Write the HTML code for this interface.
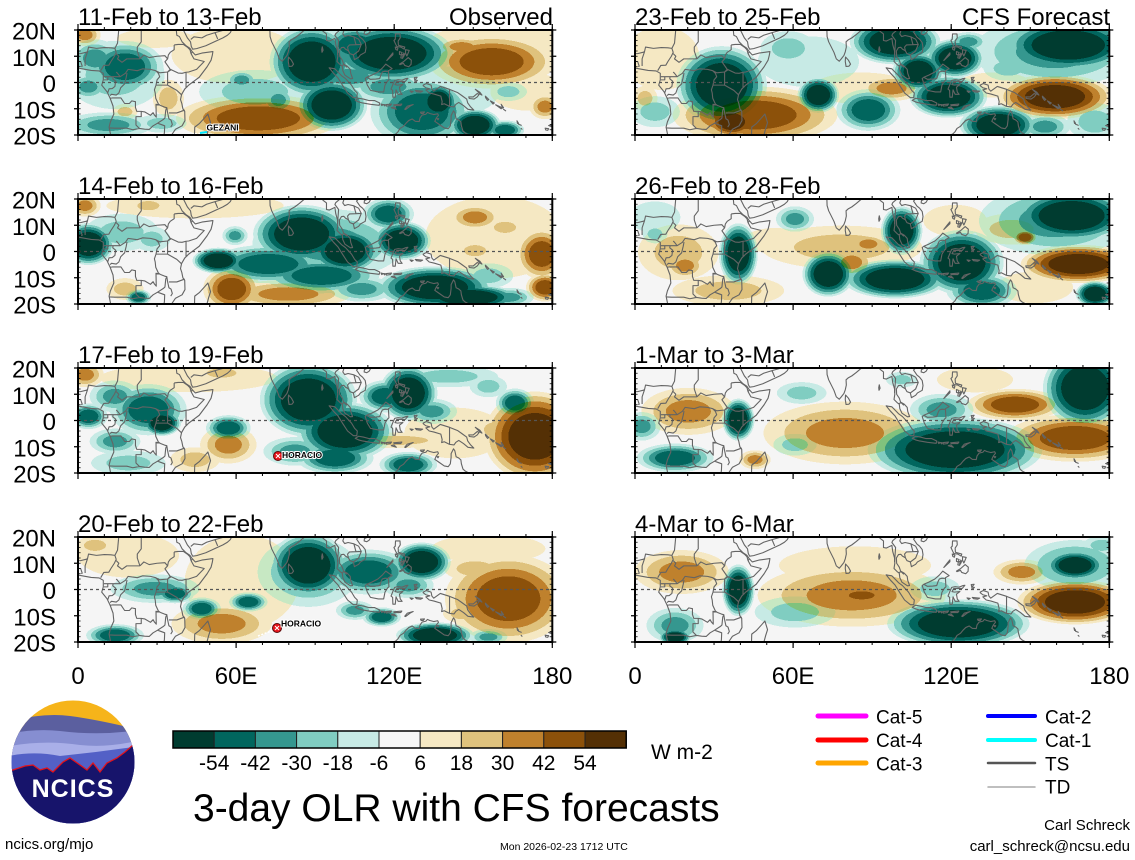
<!DOCTYPE html>
<html><head><meta charset="utf-8"><style>
html,body{margin:0;padding:0;background:#fff;}
svg{display:block;}
text{font-family:"Liberation Sans",Arial,sans-serif;}
ellipse{mix-blend-mode:darken;}
.t5{fill:url(#gT5)}.t4{fill:url(#gT4)}.t3{fill:url(#gT3)}.t2{fill:url(#gT2)}.t1{fill:url(#gT1)}
.b5{fill:url(#gB5)}.b4{fill:url(#gB4)}.b3{fill:url(#gB3)}.b2{fill:url(#gB2)}.b1{fill:url(#gB1)}
.lab{font-size:24px;fill:#000}
.tc{font-size:8.5px;font-weight:bold;fill:#000;stroke:#fff;stroke-width:2px;paint-order:stroke;}
</style></head><body>
<svg width="1135" height="860" viewBox="0 0 1135 860" xmlns="http://www.w3.org/2000/svg">
<defs>
<radialGradient id="gT5"><stop offset=".55" stop-color="#003c30"/><stop offset=".55" stop-color="#01665e"/><stop offset=".67" stop-color="#01665e"/><stop offset=".67" stop-color="#35978f"/><stop offset=".78" stop-color="#35978f"/><stop offset=".78" stop-color="#80cdc1"/><stop offset=".88" stop-color="#80cdc1"/><stop offset=".88" stop-color="#c7eae5"/><stop offset=".97" stop-color="#c7eae5"/><stop offset=".97" stop-color="#ffffff" stop-opacity="0"/></radialGradient>
<radialGradient id="gT4"><stop offset=".5" stop-color="#01665e"/><stop offset=".5" stop-color="#35978f"/><stop offset=".65" stop-color="#35978f"/><stop offset=".65" stop-color="#80cdc1"/><stop offset=".8" stop-color="#80cdc1"/><stop offset=".8" stop-color="#c7eae5"/><stop offset=".96" stop-color="#c7eae5"/><stop offset=".96" stop-color="#ffffff" stop-opacity="0"/></radialGradient>
<radialGradient id="gT3"><stop offset=".45" stop-color="#35978f"/><stop offset=".45" stop-color="#80cdc1"/><stop offset=".7" stop-color="#80cdc1"/><stop offset=".7" stop-color="#c7eae5"/><stop offset=".95" stop-color="#c7eae5"/><stop offset=".95" stop-color="#ffffff" stop-opacity="0"/></radialGradient>
<radialGradient id="gT2"><stop offset=".55" stop-color="#80cdc1"/><stop offset=".55" stop-color="#c7eae5"/><stop offset=".93" stop-color="#c7eae5"/><stop offset=".93" stop-color="#ffffff" stop-opacity="0"/></radialGradient>
<radialGradient id="gT1"><stop offset=".95" stop-color="#c7eae5"/><stop offset=".95" stop-color="#ffffff" stop-opacity="0"/></radialGradient>
<radialGradient id="gB5"><stop offset=".5" stop-color="#543005"/><stop offset=".5" stop-color="#8c510a"/><stop offset=".63" stop-color="#8c510a"/><stop offset=".63" stop-color="#bf812d"/><stop offset=".75" stop-color="#bf812d"/><stop offset=".75" stop-color="#dfc27d"/><stop offset=".86" stop-color="#dfc27d"/><stop offset=".86" stop-color="#f6e8c3"/><stop offset=".96" stop-color="#f6e8c3"/><stop offset=".96" stop-color="#ffffff" stop-opacity="0"/></radialGradient>
<radialGradient id="gB4"><stop offset=".48" stop-color="#8c510a"/><stop offset=".48" stop-color="#bf812d"/><stop offset=".64" stop-color="#bf812d"/><stop offset=".64" stop-color="#dfc27d"/><stop offset=".8" stop-color="#dfc27d"/><stop offset=".8" stop-color="#f6e8c3"/><stop offset=".95" stop-color="#f6e8c3"/><stop offset=".95" stop-color="#ffffff" stop-opacity="0"/></radialGradient>
<radialGradient id="gB3"><stop offset=".45" stop-color="#bf812d"/><stop offset=".45" stop-color="#dfc27d"/><stop offset=".7" stop-color="#dfc27d"/><stop offset=".7" stop-color="#f6e8c3"/><stop offset=".94" stop-color="#f6e8c3"/><stop offset=".94" stop-color="#ffffff" stop-opacity="0"/></radialGradient>
<radialGradient id="gB2"><stop offset=".55" stop-color="#dfc27d"/><stop offset=".55" stop-color="#f6e8c3"/><stop offset=".93" stop-color="#f6e8c3"/><stop offset=".93" stop-color="#ffffff" stop-opacity="0"/></radialGradient>
<radialGradient id="gB1"><stop offset=".95" stop-color="#f6e8c3"/><stop offset=".95" stop-color="#ffffff" stop-opacity="0"/></radialGradient>

<g id="coast" fill="none" stroke="#646464" stroke-width="0.42" stroke-linejoin="round">
<path d="M0,5.5 L5,4.6 L8,4.4 L9.6,3.5 L9.6,1 L9,-1 L11,-3.5 L12.2,-6 L13.3,-9 L13.6,-12 L12.3,-15 L11.8,-17 L12.5,-20.5
M37.2,21 L37.5,18 L38.5,17.5 L39.5,15.5 L41,14 L42.5,13 L43.3,11.8 L44.5,10.5 L47,11.2 L51.2,11.8 L51,10.5 L50.5,8.5 L49,6 L47.5,4 L46,2 L44,0.5 L42,-1 L40.5,-2.5 L39.3,-4.6 L38.9,-6.5 L39.4,-8 L39.8,-10 L40.5,-11 L40.6,-14.5 L39.5,-16.5 L37,-17.8 L35.5,-20 L35,-21
M39.5,21 L40.5,19 L41.5,17 L42.7,15.5 L43,13.7 L43.5,12.7 L45,12.9 L48.5,14 L52.2,15.7 L55,17 L56.7,18 L57.8,19 L58.5,20.5
M49.3,-12 L50.3,-15.3 L49.6,-17.5 L48.8,-20.5 L44.2,-20.5 L44.3,-17 L46,-15.7 L48,-13.5 Z
M72.8,20.5 L72.9,17.5 L73.5,15.5 L74.5,13.5 L75.5,11.5 L76.4,9 L77.5,8.1 L78.2,8.9 L79.3,10.3 L79.8,11.7 L80.2,13.5 L80.1,15.5 L81,16.3 L82.3,17 L84,18.3 L85.5,19.6 L86.8,20.5
M79.9,9.7 L81,8.5 L81.8,7 L81.2,6.2 L80.1,6.1 L79.8,8 Z
M92.7,13.6 L93,12.3 L92.6,11.5 L92.5,12.5 Z
M92.3,20.7 L93,19.5 L94.3,18.5 L94.3,16 L95.4,15.8 L97.5,16.8 L97.8,14.5 L98.5,12 L98.6,10 L98.3,8 L99.5,6.8 L100.3,6.2 L100.5,4.5 L101.3,2.8 L103.4,1.4 L104.2,1.5 L103.5,3.5 L103.3,5 L102.2,6.2 L100.8,7 L100.3,8.5 L99.3,10 L99.2,12 L100,13.3 L100.9,13.4 L101.5,12.7 L102.6,12.1 L103.2,11 L104.5,10.5 L104.9,8.7 L106.5,9.6 L107.2,10.5 L109,11.5 L109.3,13.3 L109,15.2 L108,16.5 L107,17.3 L106.2,18.5 L105.7,19.2 L106.7,20.3 L107.5,21.5
M108.6,18.5 L109.6,18.2 L110.5,18.8 L111,19.7 L110.2,20.1 L108.7,19.4 Z
M95.3,5.6 L97.5,5.2 L100,2.6 L101.5,1.5 L103.8,-1 L105,-3 L106,-4 L105.8,-5.8 L104.5,-5.8 L102.3,-4 L100.5,-1.2 L98.7,1.7 L97,3.5 Z
M105.2,-6.8 L106.5,-6 L108.3,-6.3 L110.5,-6.9 L112.6,-6.9 L114.5,-7.8 L114.3,-8.7 L111,-8.3 L108,-7.8 L106.5,-7.4 Z
M115,-8.2 L115.7,-8.4 L115.3,-8.8 Z M116,-8.4 L116.7,-8.5 L116.3,-8.9 Z M117,-8.4 L119,-8.2 L118.5,-8.8 L117,-9 Z M119.8,-8.5 L122.9,-8.2 L122.5,-8.8 L120,-8.8 Z M118.9,-9.6 L120.8,-10.2 L119.9,-9.3 Z
M124,-10.2 L125,-9 L127.2,-8.4 L126,-9 L124.3,-10.3 Z
M109,1.5 L109.8,-1 L111,-3 L114,-3.6 L116,-3.6 L116.5,-1 L117.5,0.6 L118,1 L117.8,4.5 L119.2,5.3 L116.8,7 L115.5,5.5 L113.8,4 L111.5,2.8 L109.6,2 Z
M119.5,-5.6 L119.4,-3 L118.8,-2.5 L119.8,0 L120.2,0.8 L121.5,1.1 L123,0.9 L124.5,1.5 L125.2,1.6 L124.2,0.4 L121,0.4 L120.3,-0.8 L121.2,-1 L123.3,-0.8 L122,-1.8 L122.3,-3.6 L123,-4.5 L121.5,-4.5 L120.7,-2.8 L120.4,-5.6 Z
M127.6,1.9 L128,0 L128.8,0.8 L127.9,1 L128.7,2 Z M128,-3 L130.8,-3.3 L130,-3.7 L128.5,-3.5 Z M126,-3.2 L127.2,-3.4 L126.6,-3.8 Z
M120.5,18.5 L122.2,18.5 L122.3,17 L121.5,15.8 L121.6,14.2 L124,13.5 L123.8,12.7 L122.5,13.5 L121,13.7 L120.6,14.5 L119.9,16 L120.4,16.5 Z
M120.4,13.5 L121.4,13.1 L121.2,12.3 L120.6,12.6 Z M124.3,12.5 L125.7,12.2 L125.2,11 L124.8,10.1 L124.3,11.2 Z
M122,11.8 L123,11.4 L122.6,10.5 L122,10.7 Z M122.8,10.8 L123.3,10.6 L123.2,9.2 L122.5,9.4 Z M123.6,11.2 L124,10.8 L123.5,9.7 Z
M117.2,8.4 L119.5,10.6 L119.5,11.3 L118.6,10.2 Z
M122,7 L123.5,7.9 L125.3,9.5 L126.5,8.5 L126.4,6.9 L125.5,6 L124,6.5 L123.5,7.3 L122.2,6.8 Z
M131,-1 L132.2,-0.4 L134,-1 L134.3,-2.5 L135,-3.3 L137.5,-1.5 L141,-2.6 L144,-3.8 L145.7,-5 L147.5,-6.3 L147.9,-7.8 L149,-9.3 L150.2,-10.5 L148,-10.2 L146.3,-8.8 L144.5,-7.6 L143.4,-8.3 L142.7,-9.3 L141,-9.1 L139,-8.1 L138,-8.4 L138.2,-7.3 L137.7,-5.2 L135.1,-4.4 L133.3,-4 L132,-2.8 L133.5,-2.4 L132,-2 L131,-1.2 Z
M148.3,-5.5 L150,-5.5 L151.5,-4.2 L152.2,-4.6 L151.5,-5.5 L150.3,-6.3 L148.5,-6.1 Z
M150.8,-2.6 L152.5,-3.7 L153.3,-4.8 L152.7,-4.5 L151.2,-3 Z
M154.6,-5.2 L155.9,-6.5 L155.4,-6.8 L154.7,-5.8 Z M156.5,-7 L158,-7.8 L157.5,-8.2 Z M158.5,-8.5 L161,-9.6 L160.6,-10 Z M160.6,-8.3 L161.5,-9.6 L161.2,-9.8 Z M161.5,-10.2 L162.3,-10.8 Z
M166.6,-14.6 L167.2,-15.6 L166.8,-15.6 Z M167.2,-15.9 L168.2,-16.3 Z M168.2,-17.5 L168.5,-17.8 Z
M177.3,-17.4 L178.6,-17.6 L178.3,-18.2 L177.5,-18.1 Z M178.6,-16.4 L180,-16.2 L179.6,-16.8 Z
M163.6,-20 L165,-21
M113.5,-22 L114.2,-21.8 L116,-20.8 L118.5,-20.3 L120.5,-19.7 L121.5,-18.7 L122.2,-17.5 L123.5,-16.7 L124.5,-15.5 L125.5,-14.5 L126.8,-13.9 L128,-14.8 L129.5,-14.9 L129.8,-13.5 L130.6,-12.4 L132,-12.1 L132.6,-11.4 L133.5,-11.8 L135,-12.2 L136.5,-11.9 L136.8,-12.5 L136,-13.5 L135.4,-14.8 L137,-15.9 L139,-17.3 L140.5,-17.6 L141.3,-16.5 L141.6,-14 L141.6,-12.6 L142.5,-10.8 L143,-11.5 L143.5,-13.8 L144.5,-14.3 L145.3,-15 L145.5,-16.5 L146.1,-18.5 L147,-19.3 L148.7,-20.2 L149.5,-22
M130,-11.3 L131.5,-11.2 L131,-11.8 L130.2,-11.8 Z M136.3,-13.8 L136.9,-13.8 L136.6,-14.2 Z"/>
<path d="M0,11 L1,11 L3,11.5 L3.6,11.7 L4,13.5 L7,13 L10,13.3 L12.5,13.2 L14,13 M14,13 L15,15 L15.5,20.5
M22,20.5 L24,20 L24,15.5 L22.5,13.5 L22.5,12 L23.5,9
M8.6,4.5 L9.8,6.5 L11.7,6.6 L12.5,8 L13.8,10 L14.5,11.5 L14,13
M14.5,11 L15.5,10 L15,9 L16.7,7.7 L18.5,9 L20.5,9 L23.5,9
M14.5,4 L15,3.5 L16,2.2 L18,3.5 L19,5 L22.5,4.5 L24.5,5.2 L27.5,5 L29.5,4.5 L31,3.7 L34,4 L35.5,5
M23.5,9 L25,10.5 L27,9.5 L30,10 L33,10.2 L34,9 L33,7.9 L35,5
M36.5,14.3 L36.5,12.5 L35,11.5 L34.3,10.5 L34,9
M36.5,14.3 L38,14.5 L40,14.5 L41.7,13.3 L42.5,12.5 M42.5,12.5 L42.9,11 L43.3,11.5
M42.9,11 L44,9 L47.9,8 L45,5 L42,4 L41,3.9 L39.5,3.5 L38,3.6 L35.9,4.6 L35,5
M41,3.9 L41,-1.7 L41.5,-1.7 M35,5 L34,4 L34,1 L34,-1 M34,-1 L37.5,-3 L39.2,-4.6 M29.6,-1 L30.5,-1 L34,-1
M29.5,4.5 L30.5,3.5 L31,2.2 L30,1 L29.6,-1 L29,-2.8 L29.3,-4 L29.5,-6 L30.5,-8.2 L31.2,-8.7
M31.2,-8.7 L32.9,-9.4 L33.7,-9.6 L34,-11.5 L34.5,-13.8 L35.3,-14.3 L35.8,-16 L35.2,-17
M33.7,-9.6 L33.3,-10.5 L33,-13.5 L32.5,-14 L30.2,-15.5 L28.5,-16.5 L27,-17.9 L25.3,-17.8
M34.5,-11.6 L36,-11.6 L37.5,-11.6 L40.5,-10.5 M30.2,-15.5 L32.9,-16.5 L32.8,-19 L32.5,-21
M25.3,-17.8 L23.3,-17.5 L20.8,-18 L18.5,-17.4 L14,-17.4 L11.8,-17.3
M23.3,-17.5 L22,-16.2 L22,-13 L24,-13 L24,-11 L22.3,-11 L21.8,-9.5 L21.8,-7.3 L20.4,-7 L19.5,-8 L17.7,-8 L16.3,-5.9 L13,-5.9 L12.2,-6
M12.2,-5 L12.7,-4.5 L14.5,-4.8 L15.5,-4 L16.2,-2 L17.7,-0.5 L18.3,2 L18.6,3.6
M11.3,-3.9 L11.8,-2.4 L13,-2.3 L14,-1.5 L14.3,0.5 L13.2,1.4 L13.3,2.2 L16,2.2
M9.8,2.2 L11.3,2.2 L13.3,2.2 M9.8,1 L11.3,1 L11.3,2.2
M24,-11 L25.3,-11.2 L27.5,-12.5 L28.5,-11.5 L29,-12.4 L29.7,-13.2 L29.6,-8.3 L31,-8.6
M0,8 L1,8 L1.6,6.2 L1.2,6.1 M2.7,6.3 L2.7,9 L3.6,11.7
M42.8,16.4 L44,17.4 L47,17 L48.8,18 L52,19 L55.6,20 M52,19 L53,16.6
M98.5,10.5 L98.9,16 L97.5,17.9 L97.8,18.6 L100,20.5 M100,6.4 L101,6.8 L101.9,5.9 L102.1,6.2
M101.1,20.4 L100.5,18.5 L101.2,17.5 L102.5,17.9 L104.7,17.4 L105.5,14.4 L103,14.3 L102.3,13.5 L102.6,12.1
M105.5,14.4 L107.5,14.5 L106.5,12 L104.5,10.5 M104.7,17.4 L106.5,16.5 L107.5,14.5
M109.6,2 L111,1.2 L113,1.3 L114.5,1.5 L115,3 L115.5,4 L116.5,4.3 L117.6,4.2
M141,-2.6 L141,-9.1"/>
</g>

<g id="frame" fill="none" stroke="#000">
<rect x="0" y="0" width="474.3" height="105" stroke-width="2"/>
<line x1="-2" y1="-0.6" x2="-2" y2="106" stroke-width="4" stroke-dasharray="1.2 25.05"/>
<line x1="476.3" y1="-0.6" x2="476.3" y2="106" stroke-width="4" stroke-dasharray="1.2 25.05"/>
<line x1="1.3" y1="-0.4" x2="1.3" y2="106" stroke-width="2.6" stroke-dasharray="0.8 4.45"/>
<line x1="473" y1="-0.4" x2="473" y2="106" stroke-width="2.6" stroke-dasharray="0.8 4.45"/>
<line x1="-0.5" y1="106.5" x2="476" y2="106.5" stroke-width="3" stroke-dasharray="1 25.35"/>
<line x1="-0.6" y1="108" x2="476" y2="108" stroke-width="6" stroke-dasharray="1.2 156.9"/>
<line x1="-0.5" y1="-1.5" x2="476" y2="-1.5" stroke-width="3" stroke-dasharray="1 25.35"/>
<line x1="-0.6" y1="-3" x2="476" y2="-3" stroke-width="6" stroke-dasharray="1.2 156.9"/>
</g>
<clipPath id="lc"><circle cx="73" cy="762" r="61.5"/></clipPath>
</defs>

<rect width="1135" height="860" fill="#fff"/>

<!-- ===== ROW 1 LEFT ===== -->
<svg x="78" y="30" width="474.3" height="105">
<rect width="474.3" height="105" fill="#f5f5f5"/>
<g transform="translate(-3,-5) scale(0.66667,0.33333)">
<ellipse class="b1" cx="240" cy="90" rx="100" ry="90"/><ellipse class="b1" cx="640" cy="60" rx="120" ry="70"/><ellipse class="b1" cx="120" cy="40" rx="60" ry="30"/><ellipse class="b1" cx="680" cy="200" rx="60" ry="60"/>
<ellipse class="t2" cx="60" cy="150" rx="80" ry="110"/><ellipse class="t2" cx="270" cy="200" rx="90" ry="70"/><ellipse class="t1" cx="560" cy="200" rx="80" ry="80"/><ellipse class="t2" cx="650" cy="200" rx="30" ry="30"/>
<ellipse class="b2" cx="140" cy="220" rx="25" ry="60"/><ellipse class="b2" cx="75" cy="260" rx="20" ry="25"/><ellipse class="t2" cx="130" cy="295" rx="40" ry="30"/>
<ellipse class="b3" cx="15" cy="30" rx="25" ry="35"/><ellipse class="b3" cx="580" cy="65" rx="40" ry="30"/><ellipse class="b3" cx="705" cy="245" rx="25" ry="40"/>
<ellipse class="t3" cx="30" cy="100" rx="40" ry="60"/><ellipse class="t3" cx="20" cy="185" rx="30" ry="40"/><ellipse class="t3" cx="50" cy="300" rx="70" ry="40"/><ellipse class="t3" cx="250" cy="165" rx="25" ry="30"/><ellipse class="t3" cx="305" cy="225" rx="25" ry="40"/><ellipse class="t3" cx="410" cy="155" rx="70" ry="50"/><ellipse class="t3" cx="470" cy="185" rx="60" ry="50"/>
<ellipse class="b4" cx="275" cy="280" rx="130" ry="75"/><ellipse class="b4" cx="625" cy="110" rx="100" ry="85"/>
<ellipse class="t4" cx="75" cy="125" rx="60" ry="80"/><ellipse class="t4" cx="420" cy="60" rx="50" ry="60"/><ellipse class="t4" cx="520" cy="260" rx="80" ry="110"/><ellipse class="t4" cx="645" cy="315" rx="30" ry="30"/>
<ellipse class="t5" cx="355" cy="110" rx="65" ry="110"/><ellipse class="t5" cx="475" cy="85" rx="95" ry="90"/><ellipse class="t5" cx="385" cy="240" rx="55" ry="80"/><ellipse class="t5" cx="545" cy="230" rx="30" ry="55"/><ellipse class="t5" cx="600" cy="300" rx="40" ry="50"/>
</g>
<use href="#coast" transform="translate(0,52.5) scale(2.635,-2.625)"/>
<line x1="0" y1="52.5" x2="474.3" y2="52.5" stroke="#555" stroke-width="1.2" stroke-dasharray="3 3"/>
</svg>

<!-- ===== ROW 1 RIGHT ===== -->
<svg x="635" y="30" width="474.3" height="105">
<rect width="474.3" height="105" fill="#f5f5f5"/>
<g transform="translate(-560,-5) scale(0.66667,0.33333)">
<ellipse class="b1" cx="880" cy="100" rx="60" ry="100"/><ellipse class="b1" cx="1180" cy="190" rx="80" ry="50"/><ellipse class="b1" cx="1380" cy="180" rx="60" ry="40"/><ellipse class="t1" cx="1100" cy="110" rx="80" ry="80"/><ellipse class="t2" cx="1400" cy="130" rx="40" ry="40"/><ellipse class="b2" cx="855" cy="220" rx="20" ry="40"/><ellipse class="t2" cx="870" cy="260" rx="40" ry="50"/><ellipse class="t2" cx="1070" cy="70" rx="45" ry="55"/><ellipse class="t2" cx="1530" cy="290" rx="45" ry="60"/>
<ellipse class="b3" cx="1225" cy="190" rx="50" ry="40"/><ellipse class="t3" cx="1340" cy="50" rx="30" ry="30"/><ellipse class="t3" cx="1470" cy="80" rx="130" ry="110"/><ellipse class="t3" cx="1455" cy="305" rx="40" ry="40"/>
<ellipse class="b4" cx="1020" cy="270" rx="130" ry="90"/><ellipse class="t4" cx="1190" cy="255" rx="50" ry="65"/>
<ellipse class="t5" cx="970" cy="180" rx="70" ry="120"/><ellipse class="t5" cx="1115" cy="210" rx="32" ry="55"/><ellipse class="b5" cx="985" cy="290" rx="40" ry="50"/><ellipse class="t5" cx="1230" cy="50" rx="70" ry="70"/><ellipse class="t5" cx="1265" cy="140" rx="40" ry="60"/><ellipse class="t5" cx="1320" cy="100" rx="45" ry="60"/><ellipse class="t5" cx="1310" cy="215" rx="60" ry="65"/><ellipse class="t5" cx="1490" cy="60" rx="100" ry="80"/><ellipse class="b5" cx="1470" cy="215" rx="90" ry="70"/><ellipse class="t5" cx="1385" cy="300" rx="60" ry="60"/>
</g>
<use href="#coast" transform="translate(0,52.5) scale(2.635,-2.625)"/>
<line x1="0" y1="52.5" x2="474.3" y2="52.5" stroke="#555" stroke-width="1.2" stroke-dasharray="3 3"/>
</svg>

<!-- ===== ROW 2 LEFT ===== -->
<svg x="78" y="199" width="474.3" height="105">
<rect width="474.3" height="105" fill="#f5f5f5"/>
<g transform="translate(-3,-5) scale(0.66667,0.33333)">
<ellipse class="b1" cx="180" cy="35" rx="140" ry="40"/><ellipse class="b1" cx="630" cy="130" rx="110" ry="130"/><ellipse class="b2" cx="110" cy="35" rx="30" ry="25"/><ellipse class="t2" cx="70" cy="115" rx="60" ry="60"/><ellipse class="t2" cx="115" cy="135" rx="30" ry="40"/><ellipse class="b2" cx="75" cy="285" rx="30" ry="35"/><ellipse class="t2" cx="620" cy="245" rx="40" ry="40"/><ellipse class="b2" cx="645" cy="100" rx="30" ry="30"/><ellipse class="b2" cx="600" cy="170" rx="30" ry="30"/>
<ellipse class="b3" cx="15" cy="35" rx="25" ry="35"/><ellipse class="t3" cx="240" cy="125" rx="20" ry="30"/><ellipse class="t3" cx="380" cy="150" rx="120" ry="110"/><ellipse class="t3" cx="430" cy="285" rx="50" ry="40"/><ellipse class="b3" cx="320" cy="300" rx="100" ry="45"/><ellipse class="t3" cx="650" cy="310" rx="40" ry="30"/><ellipse class="b3" cx="600" cy="70" rx="40" ry="40"/>
<ellipse class="t4" cx="470" cy="60" rx="40" ry="50"/><ellipse class="t4" cx="290" cy="210" rx="90" ry="60"/><ellipse class="t4" cx="370" cy="245" rx="90" ry="55"/><ellipse class="b4" cx="235" cy="285" rx="45" ry="70"/><ellipse class="t4" cx="95" cy="310" rx="20" ry="25"/><ellipse class="b4" cx="700" cy="180" rx="40" ry="80"/><ellipse class="b4" cx="705" cy="280" rx="30" ry="45"/>
<ellipse class="t5" cx="20" cy="150" rx="40" ry="65"/><ellipse class="t5" cx="340" cy="120" rx="75" ry="90"/><ellipse class="t5" cx="405" cy="170" rx="55" ry="70"/><ellipse class="t5" cx="490" cy="140" rx="45" ry="60"/><ellipse class="t5" cx="215" cy="200" rx="40" ry="40"/><ellipse class="t5" cx="540" cy="280" rx="90" ry="65"/><ellipse class="t5" cx="590" cy="310" rx="80" ry="40"/>
</g>
<use href="#coast" transform="translate(0,52.5) scale(2.635,-2.625)"/>
<line x1="0" y1="52.5" x2="474.3" y2="52.5" stroke="#555" stroke-width="1.2" stroke-dasharray="3 3"/>
</svg>

<!-- ===== ROW 2 RIGHT ===== -->
<svg x="635" y="199" width="474.3" height="105">
<rect width="474.3" height="105" fill="#f5f5f5"/>
<g transform="translate(-560,-5) scale(0.66667,0.33333)">
<ellipse class="t1" cx="870" cy="70" rx="40" ry="50"/><ellipse class="t2" cx="870" cy="120" rx="20" ry="30"/><ellipse class="b2" cx="905" cy="175" rx="65" ry="90"/><ellipse class="b2" cx="980" cy="290" rx="90" ry="50"/><ellipse class="b2" cx="1150" cy="160" rx="130" ry="70"/><ellipse class="b1" cx="1050" cy="140" rx="50" ry="40"/><ellipse class="b1" cx="1320" cy="80" rx="50" ry="50"/><ellipse class="b2" cx="1405" cy="105" rx="60" ry="50"/><ellipse class="b1" cx="1440" cy="280" rx="60" ry="50"/>
<ellipse class="b3" cx="915" cy="215" rx="30" ry="40"/><ellipse class="t3" cx="1080" cy="75" rx="30" ry="40"/><ellipse class="b3" cx="1165" cy="205" rx="35" ry="45"/><ellipse class="b3" cx="1190" cy="150" rx="30" ry="30"/><ellipse class="t3" cx="1470" cy="80" rx="120" ry="110"/>
<ellipse class="t4" cx="1360" cy="290" rx="55" ry="55"/><ellipse class="b4" cx="1425" cy="130" rx="20" ry="25"/>
<ellipse class="t5" cx="995" cy="180" rx="30" ry="95"/><ellipse class="t5" cx="1130" cy="240" rx="40" ry="70"/><ellipse class="t5" cx="1230" cy="255" rx="80" ry="60"/><ellipse class="t5" cx="1240" cy="110" rx="32" ry="75"/><ellipse class="t5" cx="1330" cy="205" rx="65" ry="100"/><ellipse class="t5" cx="1495" cy="65" rx="90" ry="80"/><ellipse class="b5" cx="1505" cy="210" rx="90" ry="60"/><ellipse class="t5" cx="1530" cy="300" rx="30" ry="40"/>
</g>
<use href="#coast" transform="translate(0,52.5) scale(2.635,-2.625)"/>
<line x1="0" y1="52.5" x2="474.3" y2="52.5" stroke="#555" stroke-width="1.2" stroke-dasharray="3 3"/>
</svg>

<!-- ===== ROW 3 LEFT ===== -->
<svg x="78" y="368" width="474.3" height="105">
<rect width="474.3" height="105" fill="#f5f5f5"/>
<g transform="translate(-3,-5) scale(0.66667,0.33333)">
<ellipse class="b1" cx="170" cy="45" rx="140" ry="45"/><ellipse class="b1" cx="570" cy="210" rx="80" ry="80"/><ellipse class="b2" cx="220" cy="30" rx="40" ry="25"/><ellipse class="t2" cx="80" cy="300" rx="60" ry="40"/><ellipse class="b2" cx="180" cy="290" rx="40" ry="40"/><ellipse class="b2" cx="480" cy="232" rx="90" ry="25"/><ellipse class="t2" cx="560" cy="40" rx="80" ry="35"/><ellipse class="t2" cx="620" cy="70" rx="30" ry="35"/><ellipse class="b2" cx="630" cy="200" rx="30" ry="40"/>
<ellipse class="b3" cx="15" cy="35" rx="30" ry="40"/><ellipse class="t3" cx="60" cy="100" rx="40" ry="50"/><ellipse class="t3" cx="60" cy="235" rx="40" ry="40"/><ellipse class="b3" cx="230" cy="245" rx="45" ry="60"/><ellipse class="t3" cx="535" cy="145" rx="40" ry="40"/><ellipse class="t3" cx="330" cy="265" rx="50" ry="45"/>
<ellipse class="t4" cx="110" cy="140" rx="60" ry="80"/><ellipse class="t4" cx="20" cy="160" rx="30" ry="40"/><ellipse class="t4" cx="230" cy="195" rx="35" ry="40"/><ellipse class="t4" cx="465" cy="100" rx="40" ry="50"/><ellipse class="t4" cx="390" cy="285" rx="60" ry="50"/><ellipse class="t4" cx="500" cy="305" rx="45" ry="40"/><ellipse class="t4" cx="660" cy="120" rx="30" ry="45"/>
<ellipse class="t5" cx="130" cy="180" rx="30" ry="40"/><ellipse class="t5" cx="350" cy="110" rx="75" ry="115"/><ellipse class="t5" cx="405" cy="205" rx="75" ry="90"/><ellipse class="t5" cx="500" cy="90" rx="45" ry="85"/><ellipse class="b5" cx="690" cy="220" rx="80" ry="140"/>
</g>
<use href="#coast" transform="translate(0,52.5) scale(2.635,-2.625)"/>
<line x1="0" y1="52.5" x2="474.3" y2="52.5" stroke="#555" stroke-width="1.2" stroke-dasharray="3 3"/>
</svg>

<!-- ===== ROW 3 RIGHT ===== -->
<svg x="635" y="368" width="474.3" height="105">
<rect width="474.3" height="105" fill="#f5f5f5"/>
<g transform="translate(-560,-5) scale(0.66667,0.33333)">
<ellipse class="t2" cx="1090" cy="90" rx="40" ry="35"/><ellipse class="b1" cx="1350" cy="50" rx="60" ry="40"/><ellipse class="t2" cx="1080" cy="245" rx="35" ry="35"/><ellipse class="t2" cx="1240" cy="50" rx="25" ry="25"/>
<ellipse class="t3" cx="850" cy="190" rx="30" ry="45"/><ellipse class="b3" cx="920" cy="145" rx="75" ry="75"/><ellipse class="b3" cx="1020" cy="290" rx="25" ry="30"/><ellipse class="b3" cx="1155" cy="210" rx="130" ry="100"/><ellipse class="t3" cx="1300" cy="140" rx="50" ry="50"/>
<ellipse class="t4" cx="900" cy="285" rx="60" ry="45"/><ellipse class="b4" cx="1410" cy="125" rx="75" ry="50"/><ellipse class="b4" cx="1500" cy="225" rx="110" ry="75"/>
<ellipse class="t5" cx="995" cy="170" rx="25" ry="65"/><ellipse class="t5" cx="1320" cy="260" rx="135" ry="100"/><ellipse class="t5" cx="1515" cy="75" rx="65" ry="120"/>
</g>
<use href="#coast" transform="translate(0,52.5) scale(2.635,-2.625)"/>
<line x1="0" y1="52.5" x2="474.3" y2="52.5" stroke="#555" stroke-width="1.2" stroke-dasharray="3 3"/>
</svg>

<!-- ===== ROW 4 LEFT ===== -->
<svg x="78" y="537" width="474.3" height="105">
<rect width="474.3" height="105" fill="#f5f5f5"/>
<g transform="translate(-3,-5) scale(0.66667,0.33333)">
<ellipse class="b1" cx="80" cy="70" rx="80" ry="70"/><ellipse class="b1" cx="250" cy="150" rx="90" ry="150"/><ellipse class="b1" cx="620" cy="50" rx="90" ry="45"/><ellipse class="b2" cx="30" cy="40" rx="30" ry="30"/><ellipse class="b2" cx="600" cy="110" rx="50" ry="40"/><ellipse class="b2" cx="580" cy="245" rx="30" ry="30"/>
<ellipse class="t3" cx="120" cy="170" rx="70" ry="45"/><ellipse class="b3" cx="220" cy="275" rx="80" ry="65"/><ellipse class="t3" cx="350" cy="120" rx="80" ry="110"/><ellipse class="t3" cx="500" cy="160" rx="40" ry="40"/><ellipse class="t3" cx="420" cy="235" rx="30" ry="30"/><ellipse class="t3" cx="620" cy="315" rx="30" ry="25"/>
<ellipse class="t4" cx="150" cy="185" rx="30" ry="30"/><ellipse class="t4" cx="190" cy="230" rx="30" ry="35"/><ellipse class="t4" cx="260" cy="210" rx="30" ry="30"/><ellipse class="t4" cx="440" cy="120" rx="70" ry="70"/><ellipse class="t4" cx="460" cy="255" rx="30" ry="30"/><ellipse class="t4" cx="60" cy="310" rx="45" ry="35"/><ellipse class="b4" cx="650" cy="200" rx="100" ry="140"/>
<ellipse class="t5" cx="350" cy="100" rx="60" ry="100"/><ellipse class="t5" cx="520" cy="90" rx="45" ry="60"/><ellipse class="t5" cx="540" cy="310" rx="60" ry="40"/>
</g>
<use href="#coast" transform="translate(0,52.5) scale(2.635,-2.625)"/>
<line x1="0" y1="52.5" x2="474.3" y2="52.5" stroke="#555" stroke-width="1.2" stroke-dasharray="3 3"/>
</svg>

<!-- ===== ROW 4 RIGHT ===== -->
<svg x="635" y="537" width="474.3" height="105">
<rect width="474.3" height="105" fill="#f5f5f5"/>
<g transform="translate(-560,-5) scale(0.66667,0.33333)">
<ellipse class="t2" cx="1080" cy="240" rx="65" ry="50"/><ellipse class="b1" cx="1170" cy="100" rx="120" ry="60"/><ellipse class="t2" cx="1290" cy="170" rx="40" ry="40"/><ellipse class="t2" cx="1540" cy="40" rx="30" ry="30"/>
<ellipse class="b3" cx="910" cy="120" rx="75" ry="70"/><ellipse class="t3" cx="900" cy="280" rx="45" ry="55"/><ellipse class="b3" cx="1165" cy="190" rx="150" ry="100"/><ellipse class="b3" cx="1420" cy="120" rx="45" ry="40"/><ellipse class="t3" cx="1500" cy="100" rx="80" ry="80"/>
<ellipse class="b4" cx="1180" cy="190" rx="40" ry="25"/>
<ellipse class="t5" cx="995" cy="175" rx="25" ry="80"/><ellipse class="t5" cx="900" cy="315" rx="25" ry="25"/><ellipse class="t5" cx="1325" cy="275" rx="110" ry="75"/><ellipse class="t5" cx="1500" cy="100" rx="45" ry="45"/><ellipse class="b5" cx="1500" cy="210" rx="90" ry="70"/>
</g>
<use href="#coast" transform="translate(0,52.5) scale(2.635,-2.625)"/>
<line x1="0" y1="52.5" x2="474.3" y2="52.5" stroke="#555" stroke-width="1.2" stroke-dasharray="3 3"/>
</svg>

<!-- storm markers -->
<line x1="188" y1="134.5" x2="200" y2="133.5" stroke="#fff" stroke-width="1.5" stroke-dasharray="2 1.5"/>
<line x1="200" y1="133" x2="207" y2="132" stroke="#00e5ff" stroke-width="2"/>
<text class="tc" x="206.5" y="130.5">GEZANI</text>
<circle cx="278" cy="456" r="4.5" fill="#e8141b" stroke="#5a0a0a" stroke-width="1"/>
<path d="M276,454 L280,458 M280,454 L276,458" stroke="#fff" stroke-width="1"/>
<text class="tc" x="282" y="458">HORACIO</text>
<line x1="258" y1="636" x2="274" y2="630" stroke="#fff" stroke-width="1.5" stroke-dasharray="2 1.5"/>
<circle cx="277" cy="628" r="4.5" fill="#e8141b" stroke="#5a0a0a" stroke-width="1"/>
<path d="M275,626 L279,630 M279,626 L275,630" stroke="#fff" stroke-width="1"/>
<text class="tc" x="281" y="626.5">HORACIO</text>

<!-- frames -->
<use href="#frame" x="78" y="30"/><use href="#frame" x="635" y="30"/>
<use href="#frame" x="78" y="199"/><use href="#frame" x="635" y="199"/>
<use href="#frame" x="78" y="368"/><use href="#frame" x="635" y="368"/>
<use href="#frame" x="78" y="537"/><use href="#frame" x="635" y="537"/>

<!-- titles -->
<text class="lab" x="78" y="25">11-Feb to 13-Feb</text>
<text class="lab" x="553" y="25" text-anchor="end">Observed</text>
<text class="lab" x="635" y="25">23-Feb to 25-Feb</text>
<text class="lab" x="1110" y="25" text-anchor="end">CFS Forecast</text>
<text class="lab" x="78" y="194">14-Feb to 16-Feb</text>
<text class="lab" x="635" y="194">26-Feb to 28-Feb</text>
<text class="lab" x="78" y="363">17-Feb to 19-Feb</text>
<text class="lab" x="635" y="363">1-Mar to 3-Mar</text>
<text class="lab" x="78" y="532">20-Feb to 22-Feb</text>
<text class="lab" x="635" y="532">4-Mar to 6-Mar</text>

<!-- y labels -->
<g text-anchor="end">
<text class="lab" x="56" y="39.5">20N</text><text class="lab" x="56" y="65.8">10N</text><text class="lab" x="56" y="92">0</text><text class="lab" x="56" y="118.3">10S</text><text class="lab" x="56" y="144.5">20S</text>
<text class="lab" x="56" y="208.5">20N</text><text class="lab" x="56" y="234.8">10N</text><text class="lab" x="56" y="261">0</text><text class="lab" x="56" y="287.3">10S</text><text class="lab" x="56" y="313.5">20S</text>
<text class="lab" x="56" y="377.5">20N</text><text class="lab" x="56" y="403.8">10N</text><text class="lab" x="56" y="430">0</text><text class="lab" x="56" y="456.3">10S</text><text class="lab" x="56" y="482.5">20S</text>
<text class="lab" x="56" y="546.5">20N</text><text class="lab" x="56" y="572.8">10N</text><text class="lab" x="56" y="599">0</text><text class="lab" x="56" y="625.3">10S</text><text class="lab" x="56" y="651.5">20S</text>
</g>

<!-- x labels -->
<g text-anchor="middle">
<text class="lab" x="78" y="684">0</text><text class="lab" x="236.1" y="684">60E</text><text class="lab" x="394.2" y="684">120E</text><text class="lab" x="552.3" y="684">180</text>
<text class="lab" x="635" y="684">0</text><text class="lab" x="793.1" y="684">60E</text><text class="lab" x="951.2" y="684">120E</text><text class="lab" x="1109.3" y="684">180</text>
</g>

<!-- colorbar -->
<g stroke="#222" stroke-width="1">
<rect x="173" y="731" width="41.2" height="17" fill="#003c30"/>
<rect x="214.2" y="731" width="41.2" height="17" fill="#01665e"/>
<rect x="255.4" y="731" width="41.2" height="17" fill="#35978f"/>
<rect x="296.6" y="731" width="41.2" height="17" fill="#80cdc1"/>
<rect x="337.8" y="731" width="41.2" height="17" fill="#c7eae5"/>
<rect x="379" y="731" width="41.2" height="17" fill="#f5f5f5"/>
<rect x="420.2" y="731" width="41.2" height="17" fill="#f6e8c3"/>
<rect x="461.4" y="731" width="41.2" height="17" fill="#dfc27d"/>
<rect x="502.6" y="731" width="41.2" height="17" fill="#bf812d"/>
<rect x="543.8" y="731" width="41.2" height="17" fill="#8c510a"/>
<rect x="585" y="731" width="41.2" height="17" fill="#543005"/>
</g>
<rect x="173" y="731" width="453.2" height="17" fill="none" stroke="#000" stroke-width="1.5"/>
<g text-anchor="middle" font-size="21">
<text x="214.2" y="770">-54</text><text x="255.4" y="770">-42</text><text x="296.6" y="770">-30</text><text x="337.8" y="770">-18</text><text x="379" y="770">-6</text>
<text x="420.2" y="770">6</text><text x="461.4" y="770">18</text><text x="502.6" y="770">30</text><text x="543.8" y="770">42</text><text x="585" y="770">54</text>
</g>
<text x="651" y="759" font-size="21">W m-2</text>

<text x="193" y="821" font-size="39">3-day OLR with CFS forecasts</text>

<!-- legend -->
<g stroke-linecap="round">
<line x1="818" y1="716" x2="866" y2="716" stroke="#ff00ff" stroke-width="5"/>
<line x1="818" y1="740" x2="866" y2="740" stroke="#ff0000" stroke-width="5"/>
<line x1="818" y1="763" x2="866" y2="763" stroke="#ffa500" stroke-width="5"/>
<line x1="988" y1="716" x2="1035" y2="716" stroke="#0000ff" stroke-width="4"/>
<line x1="988" y1="740" x2="1035" y2="740" stroke="#00ffff" stroke-width="4"/>
<line x1="988" y1="763" x2="1035" y2="763" stroke="#555" stroke-width="2.5"/>
<line x1="988" y1="787" x2="1035" y2="787" stroke="#aaa" stroke-width="1.5"/>
</g>
<g font-size="19">
<text x="876" y="723.5">Cat-5</text><text x="876" y="747">Cat-4</text><text x="876" y="770.5">Cat-3</text>
<text x="1045" y="723.5">Cat-2</text><text x="1045" y="747">Cat-1</text><text x="1045" y="770.5">TS</text><text x="1045" y="793.5">TD</text>
</g>
<text x="1130" y="830" font-size="15" text-anchor="end">Carl Schreck</text>
<text x="1130" y="851" font-size="15" text-anchor="end">carl_schreck@ncsu.edu</text>
<text x="5" y="849" font-size="15">ncics.org/mjo</text>
<text x="500" y="850" font-size="10.5">Mon 2026-02-23 1712 UTC</text>

<!-- logo -->
<g clip-path="url(#lc)">
<rect x="10" y="698" width="130" height="130" fill="#f6b41a"/>
<path d="M0,724 Q40,712 70,716 Q100,720 140,730 L140,860 L0,860 Z" fill="#5b5f9f"/>
<path d="M0,736 Q30,728 60,731 Q100,736 140,730 L140,860 L0,860 Z" fill="#868ed1"/>
<path d="M0,748 Q40,739 80,745 Q110,748 140,740 L140,860 L0,860 Z" fill="#a9afe8"/>
<path d="M0,758 Q30,750 60,756 Q100,752 140,746 L140,860 L0,860 Z" fill="#5360c6"/>
<path d="M0,772 L13,770 L25,766 L33,765 L40,770 L47,768 L53,772 L63,762 L70,758 L80,765 L87,770 L93,763 L100,772 L107,763 L117,758 L125,752 L133,745 L140,742 L140,860 L0,860 Z" fill="#17146b" stroke="#e3121a" stroke-width="1.3"/>
</g>
<text x="73" y="797" font-size="25" font-weight="bold" fill="#fff" text-anchor="middle" letter-spacing="1">NCICS</text>
</svg>
</body></html>
